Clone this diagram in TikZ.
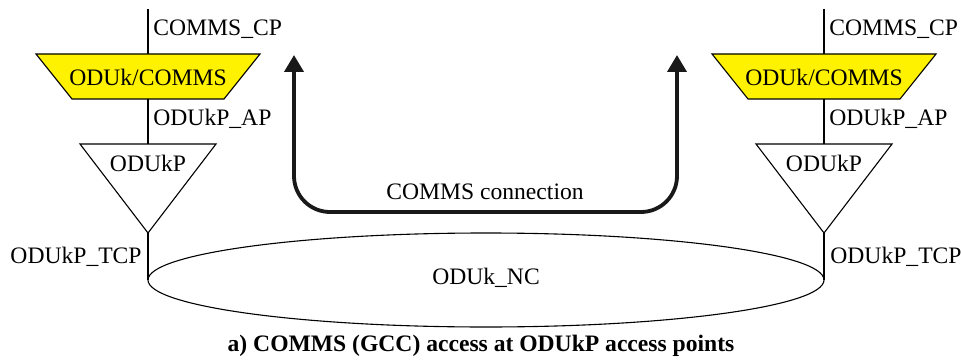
\documentclass[tikz,border=0pt]{standalone}
\usepackage{fontspec}
\setmainfont{Liberation Serif}
\usetikzlibrary{arrows.meta}
\definecolor{boxyellow}{RGB}{255,242,0}
\begin{document}
\begin{tikzpicture}[x=0.5pt,y=-0.5pt,
  thin line/.style={line width=0.55pt, black},
  lbl/.style={inner sep=0pt, font=\fontsize{11.8}{14}\selectfont},
  conn/.style={line width=1.9pt, black!90, rounded corners=18pt,
     {Triangle[length=8.5pt,width=9.5pt]}-{Triangle[length=8.5pt,width=9.5pt]}}]
\useasboundingbox (0,0) rectangle (961,363);
% left column
\coordinate (lt) at (148,9);
\coordinate (ltrapt) at (148,54);
\coordinate (ltrapb) at (148,99);
\coordinate (ltrit) at (148,144);
\coordinate (lapex) at (148,233);
\coordinate (lnc) at (148,280);
\draw[thin line] (lt) -- (ltrapt);
\draw[thin line, fill=boxyellow] (36,54) -- (260,54) -- (224,99) -- (72,99) -- cycle;
\draw[thin line] (ltrapb) -- (ltrit);
\draw[thin line] (80,144) -- (216,144) -- (lapex) -- cycle;
\draw[thin line] (lapex) -- (lnc);
% right column
\coordinate (rt) at (824,9);
\coordinate (rtrapt) at (824,54);
\coordinate (rtrapb) at (824,99);
\coordinate (rtrit) at (824,144);
\coordinate (rapex) at (824,233);
\coordinate (rnc) at (824,280);
\draw[thin line] (rt) -- (rtrapt);
\draw[thin line, fill=boxyellow] (712,54) -- (936,54) -- (900,99) -- (748,99) -- cycle;
\draw[thin line] (rtrapb) -- (rtrit);
\draw[thin line] (756,144) -- (892,144) -- (rapex) -- cycle;
\draw[thin line] (rapex) -- (rnc);
% ellipse
\draw[thin line] (486,280) ellipse [x radius=338, y radius=47];
% texts
\node[lbl] (lmod) at (148,77) {ODUk/COMMS};
\node[lbl] (rmod) at (824,77) {ODUk/COMMS};
\node[lbl] (ltri) at (148,163) {ODUkP};
\node[lbl] (rtri) at (824,163) {ODUkP};
\node[lbl] (nc) at (486,278) {ODUk\_NC};
\node[lbl, anchor=west] (lcp) at (153,29) {COMMS\_CP};
\node[lbl, anchor=west] (rcp) at (829,29) {COMMS\_CP};
\node[lbl, anchor=west] (lap) at (153,119) {ODUkP\_AP};
\node[lbl, anchor=west] (rap) at (829,119) {ODUkP\_AP};
\node[lbl, anchor=east] (ltcp) at (142,257) {ODUkP\_TCP};
\node[lbl, anchor=west] (rtcp) at (830,257) {ODUkP\_TCP};
% connection
\coordinate (ca) at (294,55);
\coordinate (cb) at (677,55);
\draw[conn] (ca) -- (294,212) -- (677,212) -- (cb);
\node[lbl] (cl) at (485,192) {COMMS connection};
% caption
\node[lbl, font=\fontsize{11.8}{14}\selectfont\bfseries] (cap) at (481,346) {a) COMMS (GCC) access at ODUkP access points};
\end{tikzpicture}
\end{document}
